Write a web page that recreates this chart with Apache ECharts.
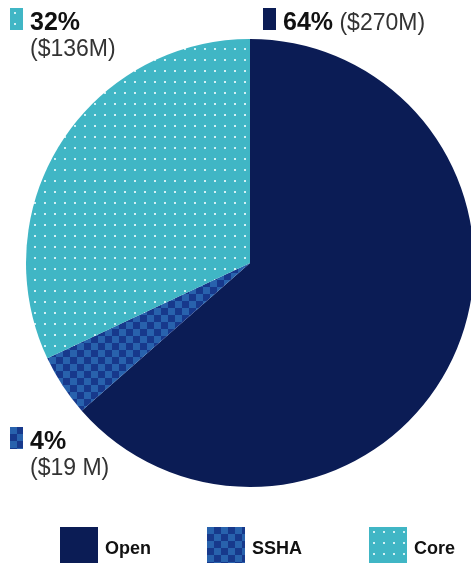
<!DOCTYPE html>
<html>
<head>
<meta charset="utf-8">
<script src="https://cdn.jsdelivr.net/npm/echarts@6/dist/echarts.min.js"></script>
<style>
  html, body { margin: 0; padding: 0; background: #fff; }
  #chart { width: 471px; height: 563px; }
</style>
</head>
<body>
<div id="chart"></div>
<script>
// Funding split by programme, $M
const categories = ['Open', 'SSHA', 'Core'];
const values = [270, 19, 136];
const amountLabels = ['($270M)', '($19 M)', '($136M)'];

// Fill patterns
function checkerPattern() {
  const c = document.createElement('canvas');
  c.width = 14; c.height = 14;
  const g = c.getContext('2d');
  g.fillStyle = '#17398c';
  g.fillRect(0, 0, 14, 14);
  g.fillStyle = '#2862ad';
  g.fillRect(0, 0, 7, 7);
  g.fillRect(7, 7, 7, 7);
  return { image: c, repeat: 'repeat' };
}
function dotPattern() {
  const c = document.createElement('canvas');
  c.width = 10; c.height = 11;
  const g = c.getContext('2d');
  g.fillStyle = '#40b6c5';
  g.fillRect(0, 0, 10, 11);
  g.fillStyle = 'rgba(235,250,252,0.85)';
  g.fillRect(4, 4, 2, 2);
  return { image: c, repeat: 'repeat' };
}
const fills = ['#0b1c55', checkerPattern(), dotPattern()];

const total = values.reduce((a, b) => a + b, 0);
const pct = values.map(v => Math.round(v / total * 100) + '%');

const FONT = '"Liberation Sans", Arial, sans-serif';

// Annotation blocks: swatch + percentage + amount
function annotation(i, x, y, twoLines) {
  const text = twoLines
    ? '{b|' + pct[i] + '}\n{r|' + amountLabels[i] + '}'
    : '{b|' + pct[i] + '}{r| ' + amountLabels[i] + '}';
  return {
    type: 'group', left: x, top: y,
    children: [
      { type: 'rect', shape: { x: 0, y: 0, width: 13, height: 22 }, style: { fill: fills[i] } },
      {
        type: 'text', x: 20, y: 2,
        style: {
          text: text,
          fontFamily: FONT,
          rich: {
            b: { fontSize: 25, fontWeight: 'bold', fill: '#111', fontFamily: FONT, lineHeight: 26 },
            r: { fontSize: 23, fill: '#333', fontFamily: FONT, lineHeight: 27 }
          }
        }
      }
    ]
  };
}

const legendX = [60, 207, 369];
const legends = categories.map((name, i) => ({
  data: [{ name: name, icon: 'rect' }],
  left: legendX[i],
  top: 527,
  padding: 0,
  itemWidth: 38,
  itemHeight: 36,
  itemGap: 0,
  selectedMode: false,
  formatter: '{t|{name}}',
  textStyle: {
    rich: {
      t: { fontSize: 18, fontWeight: 'bold', color: '#111', fontFamily: FONT, padding: [9, 0, 0, 2] }
    }
  }
}));

const chart = echarts.init(document.getElementById('chart'), null, { renderer: 'canvas' });
chart.setOption({
  animation: false,
  legend: legends,
  series: [{
    type: 'pie',
    center: [250, 263],
    radius: 224,
    startAngle: 90,
    clockwise: true,
    label: { show: false },
    labelLine: { show: false },
    emphasis: { disabled: true },
    itemStyle: { borderWidth: 0 },
    data: categories.map((name, i) => ({
      name: name,
      value: values[i],
      itemStyle: { color: fills[i] }
    }))
  }],
  graphic: [
    annotation(2, 10, 8, true),
    annotation(0, 263, 8, false),
    annotation(1, 10, 427, true)
  ]
});
</script>
</body>
</html>
